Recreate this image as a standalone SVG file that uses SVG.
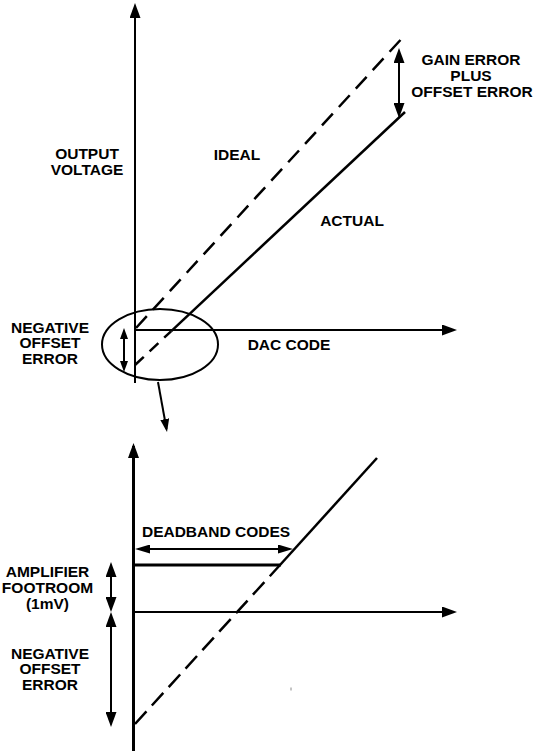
<svg xmlns="http://www.w3.org/2000/svg" width="537" height="751" viewBox="0 0 537 751">
<style>
.t{font-family:"Liberation Sans",Arial,sans-serif;font-weight:bold;font-size:15.5px;fill:#000;text-anchor:middle}
.ln{stroke:#000;fill:none;stroke-width:2}
.sl{stroke:#000;fill:none;stroke-width:2.5}
.ds1{stroke:#000;fill:none;stroke-width:2.5;stroke-dasharray:16 9}
.ds2{stroke:#000;fill:none;stroke-width:2.5;stroke-dasharray:12 8}
.ds3{stroke:#000;fill:none;stroke-width:2.5;stroke-dasharray:17 8}
.thk{stroke:#000;fill:none;stroke-width:3}
</style>
<defs>
<marker id="ah" markerUnits="userSpaceOnUse" markerWidth="15" markerHeight="11" refX="12" refY="5.5" orient="auto-start-reverse"><path d="M0,0 L15,5.5 L0,11 z" fill="#000"/></marker>
<marker id="ad" markerUnits="userSpaceOnUse" markerWidth="15" markerHeight="9" refX="12" refY="4.5" orient="auto-start-reverse"><path d="M0,0 L15,4.5 L0,9 z" fill="#000"/></marker>
<marker id="as" markerUnits="userSpaceOnUse" markerWidth="11" markerHeight="8" refX="8" refY="4" orient="auto-start-reverse"><path d="M0,0 L11,4 L0,8 z" fill="#000"/></marker>
<marker id="am" markerUnits="userSpaceOnUse" markerWidth="13" markerHeight="9" refX="10" refY="4.5" orient="auto-start-reverse"><path d="M0,0 L13,4.5 L0,9 z" fill="#000"/></marker>
</defs>

<g id="top-axes">
<line class="ln" x1="135" y1="383" x2="135" y2="6" marker-end="url(#ah)"/>
<line class="ln" x1="135" y1="330" x2="454" y2="330" marker-end="url(#ah)"/>
</g>

<g id="ideal-line">
<line class="ds1" x1="136" y1="328" x2="405" y2="35"/>
</g>

<g id="actual-line">
<line class="ds2" x1="135" y1="365" x2="171" y2="331.3"/>
<line class="sl" x1="171" y1="331.3" x2="405" y2="112"/>
</g>

<g id="zoom-ellipse">
<ellipse class="ln" cx="160" cy="344.5" rx="58" ry="35.5"/>
</g>

<g id="connectors">
<line class="ln" x1="399" y1="51" x2="399" y2="115" marker-start="url(#ah)" marker-end="url(#ah)"/>
<line class="ln" x1="124" y1="331" x2="124" y2="369" marker-start="url(#as)" marker-end="url(#as)"/>
<line class="ln" x1="158" y1="382" x2="166.5" y2="429" marker-end="url(#am)"/>
<line class="ln" x1="138" y1="549" x2="290" y2="549" marker-start="url(#ad)" marker-end="url(#ad)"/>
<line class="ln" x1="111" y1="565" x2="111" y2="609" marker-start="url(#ah)" marker-end="url(#ah)"/>
<line class="ln" x1="111" y1="615" x2="111" y2="724" marker-start="url(#ah)" marker-end="url(#ah)"/>
</g>

<g id="bottom-axes">
<line class="thk" x1="133.5" y1="751" x2="133.5" y2="446" marker-end="url(#ah)"/>
<line class="ln" x1="133" y1="612" x2="454" y2="612" marker-end="url(#ah)"/>
</g>

<g id="bottom-transfer">
<line class="thk" x1="133" y1="565" x2="281" y2="565"/>
<line class="sl" x1="280" y1="565" x2="377" y2="458"/>
<line class="ds3" x1="135" y1="724" x2="280" y2="565"/>
<line x1="291" y1="687.5" x2="291" y2="690.5" stroke="#888" stroke-width="1"/>
</g>

<g id="labels">
<text class="t" x="87" y="159">OUTPUT</text>
<text class="t" x="87" y="175">VOLTAGE</text>
<text class="t" x="237" y="159.5">IDEAL</text>
<text class="t" x="352" y="226">ACTUAL</text>
<text class="t" x="471" y="65">GAIN ERROR</text>
<text class="t" x="471" y="81">PLUS</text>
<text class="t" x="472" y="96.5">OFFSET ERROR</text>
<text class="t" x="289" y="350">DAC CODE</text>
<text class="t" x="50" y="332.5">NEGATIVE</text>
<text class="t" x="50" y="348">OFFSET</text>
<text class="t" x="50" y="363.5">ERROR</text>
<text class="t" x="216" y="536.5">DEADBAND CODES</text>
<text class="t" x="47.5" y="576.5">AMPLIFIER</text>
<text class="t" x="47.5" y="592.5">FOOTROOM</text>
<text class="t" x="47.5" y="608.5">(1mV)</text>
<text class="t" x="50" y="658.5">NEGATIVE</text>
<text class="t" x="50" y="674">OFFSET</text>
<text class="t" x="50" y="689.5">ERROR</text>
</g>
</svg>
